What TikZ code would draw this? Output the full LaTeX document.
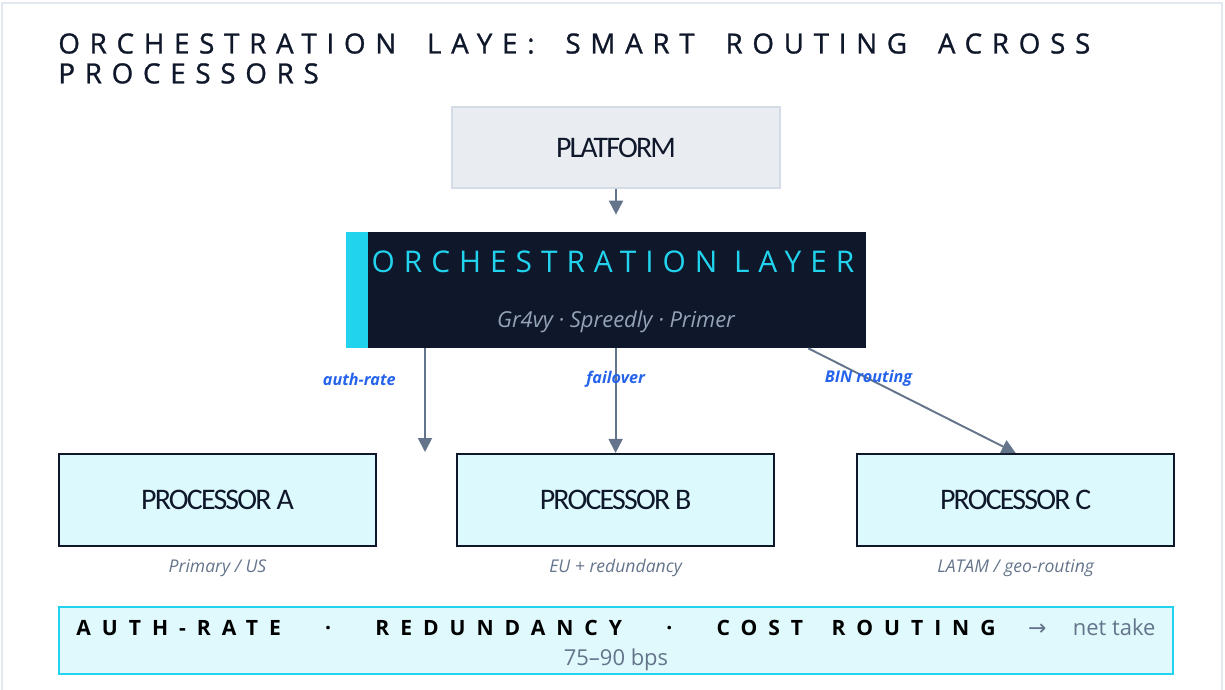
\documentclass[tikz,border=0pt]{standalone}
\usepackage{fontspec}
\setmainfont{Open Sans}
\newfontfamily\widefont[LetterSpace=30]{Open Sans}
\newfontfamily\headfont[LetterSpace=35, FakeBold=1]{Open Sans}
\newfontfamily\bandfont[LetterSpace=52]{Open Sans}
\newfontfamily\boxfont[LetterSpace=-6]{Carlito}
\newfontfamily\symfont{DejaVu Sans}
\usetikzlibrary{arrows.meta, positioning}
\definecolor{ink}{HTML}{0F172A}
\definecolor{slate}{HTML}{64748B}
\definecolor{mist}{HTML}{94A3B8}
\definecolor{cyanbar}{HTML}{22D3EE}
\definecolor{procfill}{HTML}{DCFAFD}
\definecolor{bandfill}{HTML}{DFF9FC}
\definecolor{platfill}{HTML}{E9ECF1}
\definecolor{platline}{HTML}{D5DCE5}
\definecolor{tagblue}{HTML}{2563EB}
\definecolor{frame}{HTML}{E2E8F0}
\newcommand{\wgap}{\hskip0.5em}
\tikzstyle{route}=[draw=slate, line width=1.1pt, -{Triangle[length=2.8mm,width=2.8mm]}]
\tikzstyle{proc}=[draw=ink, line width=1.2pt, fill=procfill, minimum width=6.34cm, minimum height=1.84cm, text=ink, font=\boxfont\fontsize{17}{20}\selectfont]
\tikzstyle{note}=[text=slate, font=\itshape\fontsize{10}{12}\selectfont]
\tikzstyle{tag}=[text=tagblue, font=\bfseries\itshape\fontsize{9.2}{11}\selectfont]

\begin{document}
\begin{tikzpicture}
  \useasboundingbox (0,0) rectangle (24.5,-13.8);
  \draw[frame, line width=0.6pt] (0.04,-0.06) rectangle (24.44,-13.9);
  \node[anchor=north west, inner sep=0, align=left, text=ink, font=\headfont\fontsize{15.8}{17}\selectfont] (title) at (1.16,-0.66)
    {ORCHESTRATION \wgap LAYE: \wgap SMART \wgap ROUTING \wgap ACROSS\\PROCESSORS};
  % top of the stack
  \node[fill=platfill, draw=platline, line width=1pt, minimum width=6.56cm, minimum height=1.62cm, text=ink, font=\boxfont\fontsize{17}{20}\selectfont] (plat) at (12.32,-2.95) {PLATFORM};
  \node[fill=ink, minimum width=10.4cm, minimum height=2.32cm, inner sep=0] (orch) at (12.12,-5.8) {};
  \fill[cyanbar] (orch.north west) rectangle ([xshift=0.44cm]orch.south west);
  \node[text=cyanbar, font=\widefont\fontsize{17}{20}\selectfont] (orchname) at (12.26,-5.24) {ORCHESTRATION LAYER};
  \node[text=mist, font=\itshape\fontsize{12.5}{15}\selectfont] (orchsub) at (12.32,-6.43) {Gr4vy · Spreedly · Primer};
  \draw[route] (plat.south -| plat) -- ([yshift=0.34cm]orch.north -| plat);
  % processors
  \node[proc] (pa) at (4.35,-10.0) {PROCESSOR A};
  \node[proc] (pb) [right=1.58cm of pa] {PROCESSOR B};
  \node[proc] (pc) [right=1.62cm of pb] {PROCESSOR C};
  \node[note] (na) [below=0.12cm of pa] {Primary / US};
  \node[note] (nb) [below=0.12cm of pb] {EU + redundancy};
  \node[note] (nc) [below=0.12cm of pc] {LATAM / geo-routing};
  \coordinate (aend) at (8.5,-9.04);
  \draw[route] (orch.south -| aend) -- node[tag, pos=0.3, left=0.45cm] {auth-rate} (aend);
  \draw[route] (orch.south -| pb.north) -- node[tag, pos=0.3] {failover} (pb.north);
  \draw[route] ([xshift=-1.16cm]orch.south east) -- node[tag, pos=0.29] {BIN routing} (pc.north);
  % summary band
  \node[fill=bandfill, draw=cyanbar, line width=0.8pt, minimum width=22.28cm, minimum height=1.34cm] (band) at (12.32,-12.81) {};
  \node[align=center, inner sep=0, yshift=-0.08cm] (bandtext) at (band)
    {{\bandfont\bfseries\fontsize{12}{14}\selectfont AUTH-RATE\hskip2.1em·\hskip2.1em REDUNDANCY\hskip2.1em·\hskip2.1em COST\hskip1.35em ROUTING}\hskip1.85em
     {\color{slate}\fontsize{12.5}{14}\selectfont{\symfont →}\hskip1.2em net take}\\[5pt]
     {\color{slate}\fontsize{12.5}{14}\selectfont 75–90 bps}};
\end{tikzpicture}
\end{document}
